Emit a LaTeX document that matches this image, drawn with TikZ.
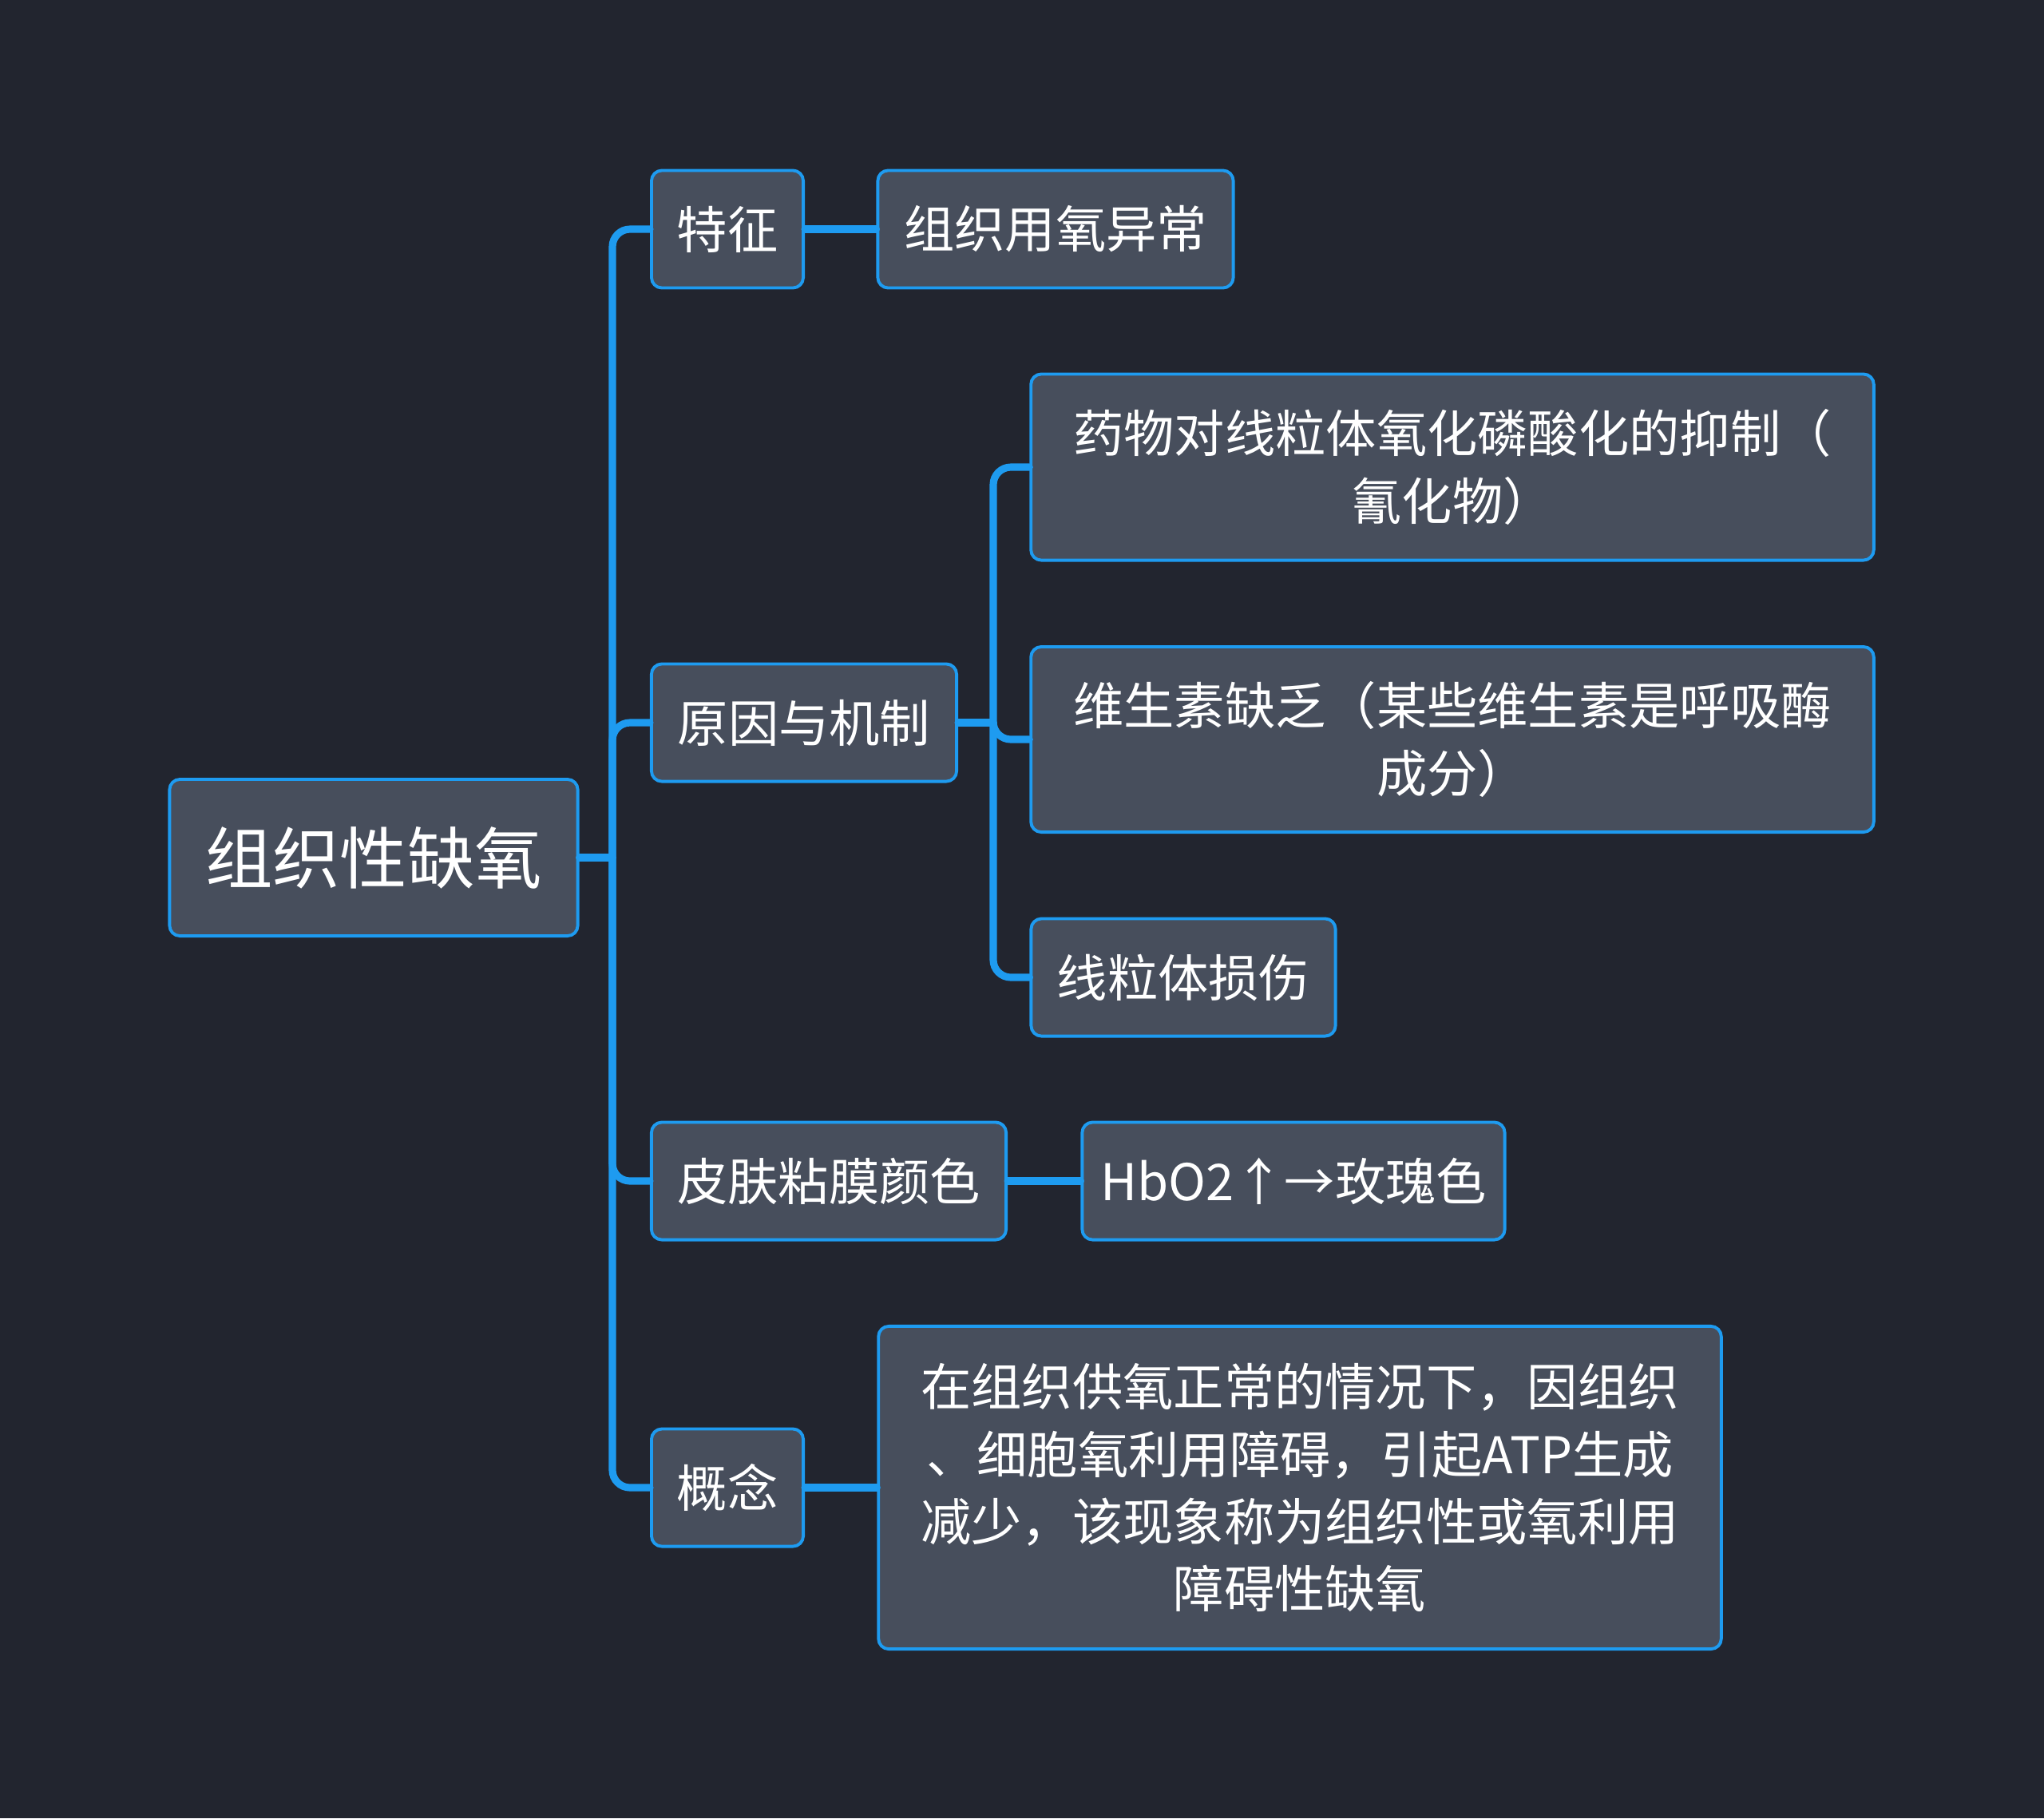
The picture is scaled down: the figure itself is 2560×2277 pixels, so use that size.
\documentclass[tikz,border=0pt]{standalone}
\usepackage{fontspec}
\setmainfont{Noto Sans CJK SC}
\usetikzlibrary{positioning,calc}
\definecolor{Night}{HTML}{22252F}
\definecolor{Slate}{HTML}{474E5C}
\definecolor{Azure}{HTML}{1E9BF0}
\tikzset{topic/.style={rectangle,rounded corners=0.13cm,draw=Azure,line width=1.1pt,fill=Slate,text=white,align=center,inner sep=0pt,font=\fontsize{18pt}{24pt}\selectfont,minimum height=1.47cm},rootbox/.style={topic,font=\fontsize{24pt}{30pt}\selectfont,minimum height=1.96cm},link/.style={draw=Azure,line width=2.6pt,rounded corners=0.22cm,line cap=round}}
\begin{document}
\begin{tikzpicture}[x=0.01cm,y=-0.01cm]
\fill[Night] (0,0) rectangle (2560,2277);
\node[rootbox,minimum width=5.11cm] (root) at (468,1074) {组织性缺氧};
\node[topic,minimum width=1.90cm] (tz) at (911,287) {特征};\node[topic,minimum width=4.45cm] (yc) at (1322,287) {组织用氧异常};
\node[topic,minimum width=3.82cm] (yy) at (1007,905) {原因与机制};
\node[topic,minimum width=10.55cm,minimum height=2.33cm] (yw) at (1819,585) {药物对线粒体氧化磷酸化的抑制（\\氰化物）};
\node[topic,minimum width=10.55cm,minimum height=2.32cm] (ws) at (1819,926) {维生素缺乏（某些维生素是呼吸酶\\成分）};
\node[topic,minimum width=3.81cm] (xl) at (1482,1224) {线粒体损伤};
\node[topic,minimum width=4.44cm] (pf) at (1038,1479) {皮肤粘膜颜色};\node[topic,minimum width=5.29cm] (hb) at (1620,1479) {HbO2↑→玫瑰色};
\node[topic,minimum width=1.90cm] (gn) at (911,1863) {概念};
\node[topic,minimum width=10.55cm,minimum height=4.04cm] (zy) at (1628,1863) {在组织供氧正常的情况下，因组织\\、细胞氧利用障碍，引起ATP生成\\减少，该现象称为组织性或氧利用\\障碍性缺氧};
\coordinate (j0) at (767,1074);\coordinate (j1) at (1244,905);
\draw[link] (root.east)--(j0);
\draw[link] (j0)|-(tz.west);\draw[link] (j0)|-(yy.west);\draw[link] (j0)|-(pf.west);\draw[link] (j0)|-(gn.west);
\draw[link] (tz.east)--(yc.west);\draw[link] (pf.east)--(hb.west);\draw[link] (gn.east)--(zy.west);
\draw[link] (yy.east)--(j1);
\draw[link] (j1)|-(yw.west);\draw[link] (j1)|-(ws.west);\draw[link] (j1)|-(xl.west);
\end{tikzpicture}
\end{document}
